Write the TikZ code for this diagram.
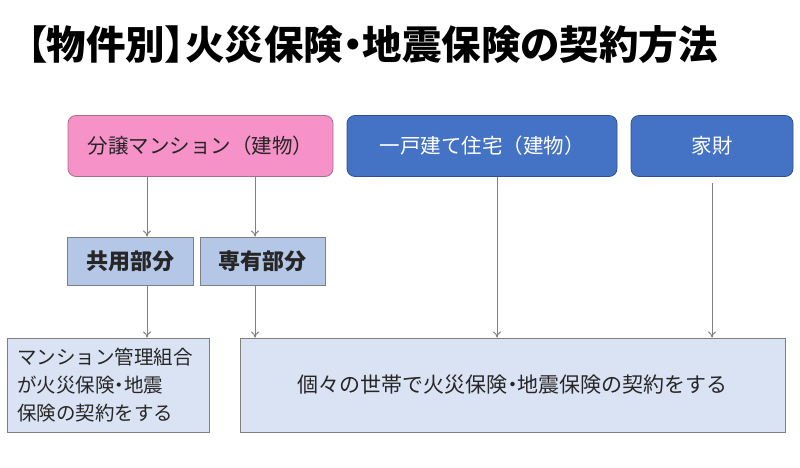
\documentclass[tikz,border=0pt]{standalone}
\usepackage{fontspec}
\setmainfont{Noto Sans CJK JP}
\newfontfamily\titlefont[RawFeature=+palt]{Noto Sans CJK JP}
\newcommand{\pdot}{{\titlefont ・}}
\usepackage{xcolor}
\usetikzlibrary{positioning,arrows.meta}

\definecolor{pinkfill}{HTML}{F792C8}
\definecolor{pinkline}{HTML}{A86E8C}
\definecolor{bluefill}{HTML}{4472C4}
\definecolor{blueline}{HTML}{2F528F}
\definecolor{partfill}{HTML}{B4C7E7}
\definecolor{resultfill}{HTML}{DAE3F3}
\definecolor{boxline}{HTML}{7F7F7F}
\definecolor{arrowgray}{HTML}{808080}

\begin{document}
\begin{tikzpicture}[
       x=1pt, y=1pt,
       mansionbox/.style={
           rectangle,
           rounded corners=8pt,
           draw=pinkline,
           fill=pinkfill,
           line width=0.8pt,
           text=black!85,
           font=\fontsize{20.5}{24}\selectfont,
           minimum height=61pt
       },
       housebox/.style={
           rectangle,
           rounded corners=8pt,
           draw=blueline,
           fill=bluefill,
           line width=0.8pt,
           text=white,
           font=\fontsize{20.5}{24}\selectfont,
           minimum height=61pt
       },
       partbox/.style={
           rectangle,
           draw=boxline,
           fill=partfill,
           line width=1pt,
           text=black!85,
           font=\fontsize{22}{26}\selectfont\bfseries,
           minimum width=125pt,
           minimum height=48pt
       },
       resultbox/.style={
           rectangle,
           draw=boxline,
           fill=resultfill,
           line width=1pt,
           text=black!85,
           font=\fontsize{21}{28}\selectfont,
           minimum height=94pt
       },
       arr/.style={
           draw=arrowgray,
           line width=1pt,
           -{To[length=6pt,width=8pt]}
       }
   ]

   \useasboundingbox (0,0) rectangle (800,-468);

   % Title
   \node[font=\titlefont\fontsize{39.5}{44}\selectfont\bfseries, anchor=west, inner sep=0pt] (title) at (27,-45)
       {【物件別】火災保険・地震保険の契約方法};

   % Top row
   \node[mansionbox, minimum width=265pt] (mansion) at (200.5,-146) {分譲マンション（建物）};
   \node[housebox, minimum width=270pt] (kodate) at (482,-146) {一戸建て住宅（建物）};
   \node[housebox, minimum width=162pt] (kazai) at (712,-146) {家財};

   % Parts of the mansion
   \node[partbox, minimum width=126pt] (kyoyo) at (130,-261) {共用部分};
   \node[partbox] (senyu) at (262.5,-261) {専有部分};

   % Results
   \node[resultbox, minimum width=202pt, text width=182pt, align=left,
         font=\fontsize{19.5}{28}\selectfont] (kumiai) at (108,-385)
       {マンション管理組合\\が火災保険\pdot 地震\\保険の契約をする};
   \node[resultbox, minimum width=545pt] (kobetsu) at (512.5,-385)
       {個々の世帯で火災保険\pdot 地震保険の契約をする};

   % Arrows
   \draw[arr] ([xshift=-53.5pt]mansion.south) -- ([xshift=-53.5pt]mansion.south |- kyoyo.north);
   \draw[arr] ([xshift=54.5pt]mansion.south) -- ([xshift=54.5pt]mansion.south |- senyu.north);

   \draw[arr] ([xshift=17pt]kyoyo.south) -- ([xshift=17pt]kyoyo.south |- kumiai.north);
   \draw[arr] ([xshift=-7.5pt]senyu.south) -- ([xshift=-7.5pt]senyu.south |- kobetsu.north);

   \draw[arr] ([xshift=15pt]kodate.south) -- ([xshift=15pt]kodate.south |- kobetsu.north);
   \draw[arr, shorten <=6pt] (kazai.south) -- (kazai.south |- kobetsu.north);

\end{tikzpicture}
\end{document}
